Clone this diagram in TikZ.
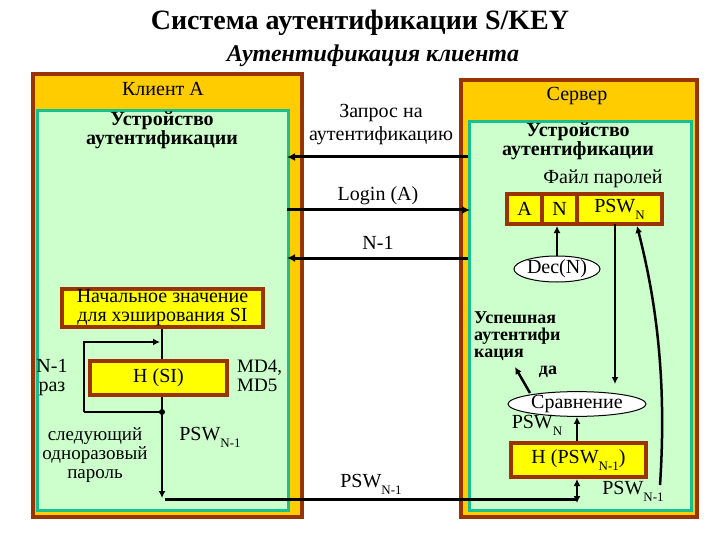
\documentclass[tikz,border=0pt]{standalone}
\usepackage{fontspec}
\setmainfont{Liberation Serif}
\usetikzlibrary{arrows.meta,shapes.geometric}
\definecolor{orng}{HTML}{FFCC00}
\definecolor{brwn}{HTML}{993300}
\definecolor{tealb}{HTML}{19BF8C}
\definecolor{lgreen}{HTML}{CCFFCC}
\definecolor{yell}{HTML}{FFFF00}
\newcommand\fsz[2]{\fontsize{#1}{#2}\selectfont}
\newcommand\sbs[1]{\raisebox{-0.35em}{\fsz{13}{13}#1}}
\tikzset{
  outerbox/.style={draw=brwn,line width=4pt,fill=orng},
  innerbox/.style={draw=tealb,line width=3pt,fill=lgreen},
  ybox/.style={draw=brwn,line width=4pt,fill=yell,inner sep=0pt},
  oval/.style={draw,ellipse,fill=white,line width=1pt,inner sep=0pt},
  lbl/.style={inner sep=0pt,font=\fsz{20}{20}},
  blbl/.style={inner sep=0pt,font=\fsz{20}{19}\bfseries,align=center},
  bigarr/.style={line width=3pt,-{Latex[length=8pt,width=8pt]}},
  thin/.style={line width=2pt},
  tarr/.style={line width=2pt,-{Latex[length=7pt,width=7pt]}},
  darr/.style={line width=2pt,{Latex[length=7pt,width=7pt]}-{Latex[length=7pt,width=7pt]}},
}
\begin{document}
\begin{tikzpicture}[x=1pt,y=-1pt]
\useasboundingbox (0,0) rectangle (720,540);
% title
\node[inner sep=0pt,font=\fsz{28}{28}\bfseries] (title) at (360,23) {Система аутентификации S/KEY};
\node[inner sep=0pt,font=\fsz{24}{24}\bfseries\itshape] (sub) at (373,56) {Аутентификация клиента};
% client
\node[outerbox,anchor=north west,minimum width=269pt,minimum height=443pt] (cout) at (31,72) {};
\node[innerbox,anchor=north west,minimum width=251pt,minimum height=400pt] (cin) at (36,109) {};
\node[lbl] (clabel) at (163,89) {Клиент А};
\node[blbl] (cdev) at (162,130) {Устройство\\аутентификации};
% server
\node[outerbox,anchor=north west,minimum width=236pt,minimum height=437pt] (sout) at (459,78) {};
\node[innerbox,anchor=north west,minimum width=222pt,minimum height=389pt] (sin) at (468,120) {};
\node[lbl] (slabel) at (577,96) {Сервер};
\node[blbl] (sdev) at (578,141) {Устройство\\аутентификации};
\node[lbl] (file) at (603,179) {Файл паролей};
\node[ybox,anchor=north west,minimum width=35pt,minimum height=30pt,font=\fsz{20}{20}] (fa) at (505,192) {A};
\node[ybox,anchor=north west,minimum width=35pt,minimum height=30pt,font=\fsz{20}{20}] (fn) at (540,192) {N};
\node[ybox,anchor=north west,minimum width=85pt,minimum height=30pt,font=\fsz{20}{20}] (fp) at (575,192) {PSW\sbs{N}};
\node[oval,minimum width=86pt,minimum height=26pt,font=\fsz{20}{20}] (dec) at (557,269) {Dec(N)};
\node[oval,minimum width=138pt,minimum height=24pt,font=\fsz{20}{20}] (cmp) at (577,404) {Сравнение};
\node[ybox,minimum width=135pt,minimum height=34pt,font=\fsz{20}{20}] (hp) at (578.5,460) {H (PSW\sbs{N-1})};
\node[inner sep=0pt,font=\fsz{18}{17}\bfseries,align=left,anchor=west] (succ) at (474,336) {Успешная\\аутентифи\\кация};
\node[inner sep=0pt,font=\fsz{18}{18}\bfseries] (da) at (548,372) {да};
\node[lbl] (pswn) at (537,425) {PSW\sbs{N}};
\node[lbl] (pswr) at (633,491) {PSW\sbs{N-1}};
% client internals
\node[ybox,minimum width=201pt,minimum height=38pt,font=\fsz{20}{19},align=center] (si) at (162.5,308) {Начальное значение\\для хэширования SI};
\node[ybox,minimum width=137pt,minimum height=34pt,font=\fsz{20}{20}] (hsi) at (158.5,378) {H (SI)};
\node[lbl] (nm1) at (52,366) {N-1};
\node[lbl] (raz) at (52,389) {раз};
\node[inner sep=0pt,font=\fsz{19}{19},align=left,anchor=west] (md) at (237,376) {MD4,\\MD5};
\node[inner sep=0pt,font=\fsz{19}{19},align=center] (next) at (95,455) {следующий\\одноразовый\\пароль};
\node[lbl] (pswc) at (210,437) {PSW\sbs{N-1}};
% middle labels
\node[inner sep=0pt,font=\fsz{20}{23},align=center] (req) at (381,125) {Запрос на\\аутентификацию};
\node[lbl] (login) at (378,196) {Login (A)};
\node[lbl] (nm1m) at (378,243) {N-1};
\node[lbl] (pswm) at (371,484) {PSW\sbs{N-1}};
% coordinates
\coordinate (c1) at (287,157); \coordinate (s1) at (468,157);
\coordinate (c2) at (287,210); \coordinate (s2) at (470,210);
\coordinate (c3) at (287,258); \coordinate (s3) at (468,258);
\coordinate (dot) at (162,412);
\coordinate (ltop) at (84,342);
\coordinate (lbot) at (84,412);
\coordinate (ljoin) at (160,342);
\coordinate (down) at (162,498);
\coordinate (hend) at (577,499);
\coordinate (hstart) at (165,499);
\coordinate (dbot) at (577,503);
\coordinate (cmptop) at (615,384);
\coordinate (pswtop) at (615,224);
\coordinate (curvs) at (660,485);
\coordinate (curve) at (637,226);
\coordinate (dafrom) at (530,393);
\coordinate (dato) at (515,367);
% arrows middle
\draw[bigarr] (s1) -- (c1);
\draw[bigarr] (c2) -- (s2);
\draw[bigarr] (s3) -- (c3);
% client flow
\draw[thin] (si.south -| 162,0) -- (hsi.north -| 162,0);
\draw[tarr] (lbot) -- (ltop) -- (ljoin);
\draw[thin] (dot) -- (lbot);
\draw[tarr] (hsi.south -| 162,0) -- (down);
\fill (dot) circle (3pt);
\draw[line width=3pt] (hstart) -- (hend);
% server flow
\draw[darr] (hp.south -| 577,0) -- (dbot);
\draw[tarr] (hp.north -| 577,0) -- (cmp.south -| 577,0);
\draw[tarr] (dec.north) -- (dec.north |- fn.south);
\draw[tarr] (pswtop) -- (cmptop);
\draw[tarr,line width=2.5pt] (curvs) .. controls (667,380) and (656,300) .. (curve);
\draw[tarr,line width=2.5pt] (dafrom) -- (dato);
\end{tikzpicture}
\end{document}
